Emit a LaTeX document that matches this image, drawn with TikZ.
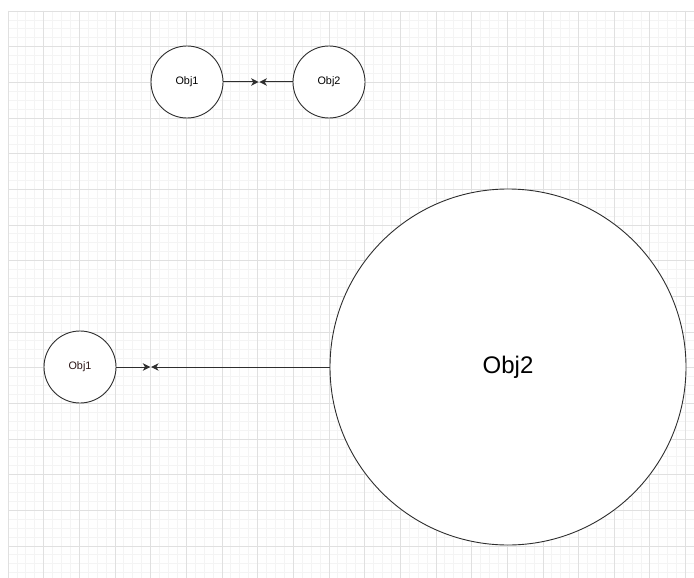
\documentclass[tikz,border=0pt]{standalone}
\usepackage{fontspec}
\setmainfont{Liberation Sans}
\usetikzlibrary{arrows.meta}
\definecolor{gridmajor}{HTML}{E0E0E0}
\definecolor{gridminor}{HTML}{F4F4F4}
\definecolor{edgecol}{HTML}{2E2E2E}
\definecolor{labeldark}{HTML}{2A1414}
\tikzset{
  minorline/.style={draw=gridminor, line width=0.8},
  majorline/.style={draw=gridmajor, line width=0.8},
  obj/.style={circle, draw=edgecol, line width=0.9, fill=white, inner sep=0pt,
              minimum size=72, font=\fontsize{10.8}{12}\selectfont},
  bigobj/.style={obj, minimum size=356, font=\fontsize{24}{28}\selectfont},
  conn/.style={draw=edgecol, line width=1, -{Stealth[length=7.5, width=7.5, inset=2.2]}}
}
\begin{document}
\begin{tikzpicture}[x=1pt, y=-1pt]
  \useasboundingbox (0,0) rectangle (694,578);
  \fill[white] (0,0) rectangle (694,578);
  % background grid: minor lines every 8.915, major every 35.66
  \foreach \i in {0,...,77} {
    \path[minorline] ({8+\i*8.915},11) -- ({8+\i*8.915},578);
  }
  \foreach \j in {0,...,63} {
    \path[minorline] (8,{11+\j*8.915}) -- (694,{11+\j*8.915});
  }
  \foreach \i in {0,...,19} {
    \path[majorline] ({8+\i*35.66},11) -- ({8+\i*35.66},578);
  }
  \foreach \j in {0,...,15} {
    \path[majorline] (8,{11+\j*35.66}) -- (694,{11+\j*35.66});
  }

  % top pair
  \node[obj] (a1) at (187,82) {Obj1};
  \node[obj] (a2) at (329,82) {Obj2};
  \coordinate (ma) at (258.6,82);
  \coordinate (mb) at (259.4,82);
  \draw[conn] (a1) -- (ma);
  \draw[conn] (a2) -- (mb);

  % bottom pair
  \node[obj, text=labeldark] (b1) at (80,367) {Obj1};
  \node[bigobj] (b2) at (508,367) {Obj2};
  \coordinate (mc) at (150.3,367);
  \coordinate (md) at (151.1,367);
  \draw[conn] (b1) -- (mc);
  \draw[conn] (b2) -- (md);
\end{tikzpicture}
\end{document}
